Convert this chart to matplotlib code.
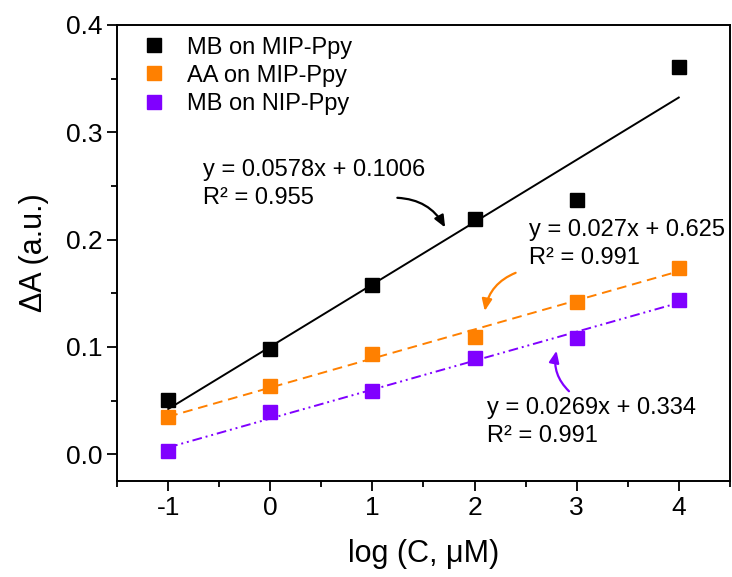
import numpy as np
import matplotlib
matplotlib.use("Agg")
import matplotlib.pyplot as plt
from matplotlib.ticker import MultipleLocator

plt.rcParams['font.family'] = ['Liberation Sans', 'DejaVu Sans']
plt.rcParams['axes.unicode_minus'] = False

# Data
log_c = [-1, 0, 1, 2, 3, 4]
mb_mip = [0.0505, 0.098, 0.158, 0.219, 0.237, 0.361]
aa_mip = [0.0346, 0.0636, 0.0935, 0.109, 0.142, 0.174]
mb_nip = [0.003, 0.039, 0.059, 0.0897, 0.108, 0.144]

eq_mb_mip = "y = 0.0578x + 0.1006\nR² = 0.955"
eq_aa_mip = "y = 0.027x + 0.625\nR² = 0.991"
eq_mb_nip = "y = 0.0269x + 0.334\nR² = 0.991"

black = 'black'
orange = '#FF8000'
purple = '#8000FF'

fig = plt.figure(figsize=(7.32, 5.77), dpi=100)
ax = fig.add_axes([0.160, 0.166, 0.837, 0.791])

x = np.array(log_c)
series = [
    (mb_mip, black, '-', 'MB on MIP-Ppy'),
    (aa_mip, orange, (0, (5, 3)), 'AA on MIP-Ppy'),
    (mb_nip, purple, (0, (5, 2, 1, 2, 1, 2)), 'MB on NIP-Ppy'),
]
for vals, col, ls, lab in series:
    k, b = np.polyfit(x, vals, 1)
    ax.plot(x, k * x + b, color=col, linestyle=ls, linewidth=1.4)
    ax.plot(x, vals, 's', color=col, markersize=10.5, label=lab, linestyle='none')

ax.set_xlim(-1.5, 4.5)
ax.set_ylim(-0.025, 0.4)
ax.xaxis.set_major_locator(MultipleLocator(1))
ax.xaxis.set_minor_locator(MultipleLocator(0.5))
ax.yaxis.set_major_locator(MultipleLocator(0.1))
ax.yaxis.set_minor_locator(MultipleLocator(0.05))
ax.yaxis.set_major_formatter(matplotlib.ticker.FormatStrFormatter('%.1f'))
ax.tick_params(which='major', direction='out', length=7, width=1.3, labelsize=19,
               top=False, right=False)
ax.tick_params(which='minor', direction='out', length=4, width=1.3,
               top=False, right=False)
for s in ax.spines.values():
    s.set_linewidth(1.4)

ax.set_xlabel('log (C, μM)', fontsize=22, labelpad=14)
ax.set_ylabel('ΔA (a.u.)', fontsize=22, labelpad=12)

ax.legend(loc='upper left', frameon=False, fontsize=17, handletextpad=0.65,
          borderaxespad=0.1, labelspacing=0.26, handlelength=1.5,
          bbox_to_anchor=(0.012, 1.0))

# equations
ax.text(-0.658, 0.275, eq_mb_mip, fontsize=17, ha='left', va='top', linespacing=1.35)
ax.text(2.535, 0.219, eq_aa_mip, fontsize=17, ha='left', va='top', linespacing=1.35)
ax.text(2.125, 0.0535, eq_mb_nip, fontsize=17, ha='left', va='top', linespacing=1.35)

# arrows
arrow_kw = dict(arrowstyle='-|>,head_length=0.7,head_width=0.3', linewidth=1.6)
ax.annotate('', xy=(1.725, 0.209), xytext=(1.217, 0.239),
            arrowprops=dict(color=black, connectionstyle='arc3,rad=-0.3', **arrow_kw))
ax.annotate('', xy=(2.096, 0.131), xytext=(2.428, 0.170),
            arrowprops=dict(color=orange, connectionstyle='arc3,rad=0.3', **arrow_kw))
ax.annotate('', xy=(2.809, 0.099), xytext=(2.945, 0.057),
            arrowprops=dict(color=purple, connectionstyle='arc3,rad=-0.3', **arrow_kw))

fig.savefig('out.png', dpi=100)
